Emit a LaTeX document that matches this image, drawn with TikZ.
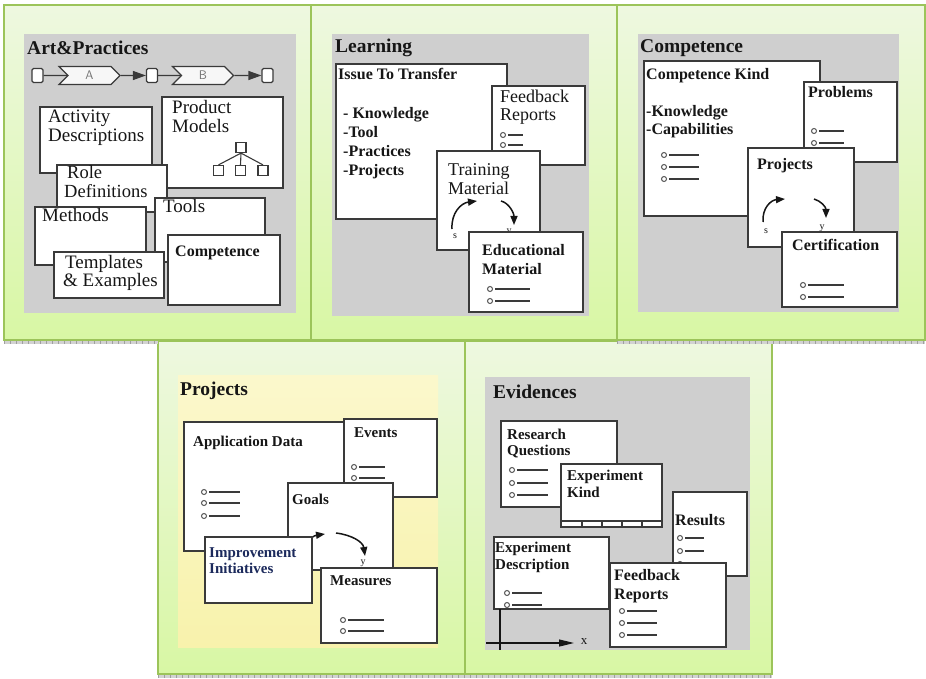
\documentclass[tikz,border=0pt]{standalone}
\usepackage{fontspec}
\setmainfont{Liberation Serif}
\usetikzlibrary{arrows.meta,shapes.symbols,fit}

\definecolor{panelTop}{HTML}{EEF8E0}
\definecolor{panelBot}{HTML}{D8F7A4}
\definecolor{panelEdge}{HTML}{9CC45A}
\definecolor{canvasGray}{HTML}{CFCFCF}
\definecolor{canvasYelTop}{HTML}{FBF8CC}
\definecolor{canvasYelBot}{HTML}{F8F2AC}
\definecolor{ink}{HTML}{161616}
\definecolor{cardEdge}{HTML}{3A3A3A}
\definecolor{navyInk}{HTML}{1C2A5C}
\definecolor{markGray}{HTML}{555555}

% helper: a small "o----" list row
\newcommand\bulletrow[3]{%
  \draw[bulletdot] (#1,#2) circle[radius=2.5];
  \draw[bulletrule] (#1+5,#2) -- ++(#3,0);}

\begin{document}
\begin{tikzpicture}[x=1pt,y=-1pt,
  panel/.style={draw=panelEdge, line width=1.5pt, top color=panelTop, bottom color=panelBot},
  card/.style={draw=cardEdge, line width=1.5pt, fill=white, inner sep=0pt, outer sep=0pt},
  lbl/.style={anchor=base west, inner sep=0pt, text=ink},
  ptitle/.style={lbl, font=\fontsize{19.5}{22}\selectfont\bfseries},
  fRa/.style={font=\fontsize{19}{21}\selectfont},
  fRc/.style={font=\fontsize{18.5}{20}\selectfont},
  fRb/.style={font=\fontsize{18}{20}\selectfont},
  fBa/.style={font=\fontsize{16}{18}\selectfont\bfseries},
  fBb/.style={font=\fontsize{15}{17}\selectfont\bfseries},
  bulletdot/.style={draw=markGray, line width=1pt, fill=white},
  bulletrule/.style={draw=cardEdge, line width=1.4pt},
  chainsq/.style={draw=cardEdge, fill=white, line width=1.2pt, rounded corners=1.5pt,
    minimum width=11pt, minimum height=14pt, inner sep=0pt},
  chevron/.style={shape=signal, signal from=west, signal to=east, draw=cardEdge,
    fill=white!94!gray, line width=1.2pt, minimum width=61pt, minimum height=18pt, inner sep=0pt,
    text=gray!90!black, font=\sffamily\fontsize{12.5}{12.5}\selectfont},
  chainln/.style={draw=cardEdge, line width=1.3pt},
  chainhead/.style={-{Triangle[length=13pt,width=9pt]}},
  treesq/.style={draw=cardEdge, fill=white, line width=1.2pt, minimum size=10pt, inner sep=0pt},
  treeln/.style={draw=cardEdge, line width=1.1pt},
  cyc/.style={draw=ink, line width=1.5pt, -{Triangle[length=9pt,width=7pt]}},
  cyclbl/.style={inner sep=0pt, text=ink, font=\fontsize{10}{10}\selectfont},
  axisln/.style={draw=ink, line width=1.2pt},
  stripBase/.style={fill=gray!35},
  stripTick/.style={draw=gray!75, line width=3pt, dash pattern=on 1.2pt off 4.8pt}
]
\useasboundingbox (0,0) rectangle (926,679);
\fill[white] (0,0) rectangle (926,679);

% ---------- panels ----------
\path[panel] (4,5) rectangle (311,340);
\path[panel] (311,5) rectangle (617,340);
\path[panel] (617,5) rectangle (925,340);
\path[panel] (158,341) rectangle (465,674);
\path[panel] (465,341) rectangle (772,674);
\foreach \a/\b/\c in {4/158/342.5, 617/925/342.5, 158/772/676.5} {
  \fill[stripBase] (\a,\c-1.5) rectangle (\b,\c+1.5);
  \draw[stripTick] (\a,\c) -- (\b,\c);
}

% ---------- canvases ----------
\fill[canvasGray] (24,34) rectangle (296,313);
\fill[canvasGray] (332,34) rectangle (589,316);
\fill[canvasGray] (638,34) rectangle (899,312);
\shade[top color=canvasYelTop, bottom color=canvasYelBot] (178,375) rectangle (438,647);
\fill[canvasGray] (485,377) rectangle (750,650);

% ================= Art&Practices =================
\node[ptitle] (ttlA) at (27,55) {Art\&Practices};
\node[chainsq] (sq1) at (37.5,75.5) {};
\node[chevron] (chA) at (89.5,75.5) {A};
\node[chainsq] (sq2) at (152,75.5) {};
\node[chevron] (chB) at (203,75.5) {B};
\node[chainsq] (sq3) at (267.5,75.5) {};
\draw[chainln] (sq1) -- (chA);
\draw[chainln, chainhead] (chA) -- (sq2);
\draw[chainln] (sq2) -- (chB);
\draw[chainln, chainhead] (chB) -- (sq3);

\node[card, fit={(40,107) (152,173)}] (actdesc) {};
\node[lbl,fRa] (tAct1) at (48,123) {Activity};
\node[lbl,fRa] (tAct2) at (48,142) {Descriptions};

\node[card, fit={(162,97) (283,188)}] (prodmod) {};
\node[lbl,fRa] (tProd1) at (172,114) {Product};
\node[lbl,fRa] (tProd2) at (172,133) {Models};
\node[treesq] (tr0) at (241,147.5) {};
\node[treesq] (tr1) at (218.5,170.5) {};
\node[treesq] (tr2) at (240.5,170.5) {};
\node[treesq] (tr3) at (263,170.5) {};
\draw[treeln] (tr0.south) -- (tr1.north);
\draw[treeln] (tr0.south) -- (tr2.north);
\draw[treeln] (tr0.south) -- (tr3.north);

\node[card, fit={(57,165) (167,212)}] (roledef) {};
\node[lbl,fRc] (tRole1) at (67,179) {Role};
\node[lbl,fRc] (tRole2) at (64,197.5) {Definitions};

\node[card, fit={(155,198) (265,262)}] (tools) {};
\node[lbl,fRa] (tTools) at (163,213) {Tools};

\node[card, fit={(35,207) (146,265)}] (methods) {};
\node[lbl,fRa] (tMeth) at (42,222) {Methods};

\node[card, fit={(54,252) (164,298)}] (templ) {};
\node[lbl,fRa] (tTmp1) at (65,268) {Templates};
\node[lbl,fRa] (tTmp2) at (63,286) {\& Examples};

\node[card, fit={(168,235) (280,305)}] (compA) {};
\node[lbl,fBa] (tCompA) at (175,256) {Competence};

% ================= Learning =================
\node[ptitle] (ttlL) at (335,53) {Learning};
\node[card, fit={(336,64) (507,219)}] (issue) {};
\node[lbl,fBa] (tIss0) at (338,80) {Issue To Transfer};
\node[lbl,fBa] (tIss1) at (343,119) {- Knowledge};
\node[lbl,fBa] (tIss2) at (343,138) {-Tool};
\node[lbl,fBa] (tIss3) at (343,157) {-Practices};
\node[lbl,fBa] (tIss4) at (343,176) {-Projects};

\node[card, fit={(492,86) (585,165)}] (fbrepL) {};
\node[lbl,fRb] (tFbL1) at (500,103) {Feedback};
\node[lbl,fRb] (tFbL2) at (500,121) {Reports};
\bulletrow{503}{135}{15}
\bulletrow{503}{145}{15}

\node[card, fit={(437,151) (540,250)}] (training) {};
\node[lbl,fRb] (tTr1) at (448,176) {Training};
\node[lbl,fRb] (tTr2) at (448,195) {Material};
\coordinate (lcA1) at (452,229);
\coordinate (lcA2) at (477,201);
\coordinate (lcB1) at (501,201);
\coordinate (lcB2) at (514,225);
\draw[cyc] (lcA1) .. controls (451,213) and (461,203) .. (lcA2);
\draw[cyc] (lcB1) .. controls (509,203) and (514,213) .. (lcB2);
\node[cyclbl] (lcS) at (455,236) {s};
\node[cyclbl] (lcY) at (509,232) {y};

\node[card, fit={(469,232) (583,312)}] (edumat) {};
\node[lbl,fBa] (tEd1) at (482,255) {Educational};
\node[lbl,fBa] (tEd2) at (482,274) {Material};
\bulletrow{490}{289}{35}
\bulletrow{490}{301}{35}

% ================= Competence =================
\node[ptitle] (ttlC) at (640,53) {Competence};
\node[card, fit={(644,61) (820,216)}] (ckind) {};
\node[lbl,fBa] (tCk0) at (646,80) {Competence Kind};
\node[lbl,fBa] (tCk1) at (646,117) {-Knowledge};
\node[lbl,fBa] (tCk2) at (646,135) {-Capabilities};
\bulletrow{664}{155}{30}
\bulletrow{664}{167}{30}
\bulletrow{664}{179}{30}

\node[card, fit={(804,82) (897,162)}] (problems) {};
\node[lbl,fBa] (tProb) at (808,98) {Problems};
\bulletrow{814}{131}{25}
\bulletrow{814}{143}{25}

\node[card, fit={(748,148) (854,247)}] (cproj) {};
\node[lbl,fBa] (tCproj) at (757,170) {Projects};
\coordinate (ccA1) at (763,222);
\coordinate (ccA2) at (785,199);
\coordinate (ccB1) at (814,199);
\coordinate (ccB2) at (826,218);
\draw[cyc] (ccA1) .. controls (762,208) and (771,200) .. (ccA2);
\draw[cyc] (ccB1) .. controls (821,201) and (826,207) .. (ccB2);
\node[cyclbl] (ccS) at (766,231) {s};
\node[cyclbl] (ccY) at (822,228) {y};

\node[card, fit={(782,232) (897,307)}] (certif) {};
\node[lbl,fBa] (tCert) at (792,251) {Certification};
\bulletrow{803}{285}{36}
\bulletrow{803}{297}{36}

% ================= Projects =================
\node[ptitle] (ttlP) at (180,395) {Projects};
\node[card, fit={(184,422) (345,551)}] (appdata) {};
\node[lbl,fBb] (tApp) at (193,446) {Application Data};
\bulletrow{204}{492}{31}
\bulletrow{204}{503}{31}
\bulletrow{204}{516}{31}

\node[card, fit={(344,419) (437,497)}] (events) {};
\node[lbl,fBb] (tEv) at (354,437) {Events};
\bulletrow{354}{467}{26}
\bulletrow{354}{478}{26}

\node[card, fit={(288,483) (393,570)}] (goals) {};
\node[lbl,fBb] (tGoals) at (292,504) {Goals};
\coordinate (gcA1) at (300,566);
\coordinate (gcA2) at (325,534);
\coordinate (gcB1) at (336,533);
\coordinate (gcB2) at (365,556);
\draw[cyc] (gcA1) .. controls (301,547) and (311,536) .. (gcA2);
\draw[cyc] (gcB1) .. controls (352,535) and (363,542) .. (gcB2);
\node[cyclbl] (gcY) at (363,563) {y};

\node[card, fit={(205,537) (312,603)}] (improve) {};
\node[lbl,fBb,text=navyInk] (tImp1) at (209,557) {Improvement};
\node[lbl,fBb,text=navyInk] (tImp2) at (209,573) {Initiatives};

\node[card, fit={(321,568) (437,643)}] (measures) {};
\node[lbl,fBb] (tMeas) at (330,585) {Measures};
\bulletrow{343}{620}{36}
\bulletrow{343}{631}{36}

% ================= Evidences =================
\node[ptitle] (ttlE) at (493,398) {Evidences};
\node[card, fit={(501,421) (617,507)}] (research) {};
\node[lbl,fBb] (tRes1) at (507,439) {Research};
\node[lbl,fBb] (tRes2) at (507,455) {Questions};
\bulletrow{512}{470}{31}
\bulletrow{512}{483}{31}
\bulletrow{512}{495}{31}

\node[card, fit={(561,464) (662,527)}] (expkind) {};
\node[lbl,fBb] (tEk1) at (567,480) {Experiment};
\node[lbl,fBb] (tEk2) at (567,497) {Kind};
\draw[bulletrule] (561,521) -- (662,521);
\foreach \t in {582,602,622,642} \draw[bulletrule] (\t,521) -- (\t,527);

\node[card, fit={(673,492) (747,576)}] (results) {};
\node[lbl,fBa] (tRslt) at (675,525) {Results};
\bulletrow{680}{538}{19}
\bulletrow{680}{551}{19}
\bulletrow{680}{564}{19}

\node[card, fit={(494,537) (609,609)}] (expdesc) {};
\node[lbl,fBb] (tEd1b) at (495,552) {Experiment};
\node[lbl,fBb] (tEd2b) at (495,569) {Description};
\bulletrow{507}{593}{30}
\bulletrow{507}{605}{30}
\coordinate (axTop) at (500,609);
\coordinate (axBot) at (500,650);
\coordinate (axLeft) at (486,643);
\coordinate (axRight) at (574,643);
\draw[axisln] (axTop) -- (axBot);
\draw[axisln, -{Triangle[length=15pt,width=7pt]}] (axLeft) -- (axRight);
\node[inner sep=0pt, text=ink, font=\fontsize{13}{13}\selectfont] (axX) at (584,642) {x};

\node[card, fit={(610,563) (726,647)}] (fbrepE) {};
\node[lbl,fBa] (tFbE1) at (614,580) {Feedback};
\node[lbl,fBa] (tFbE2) at (614,599) {Reports};
\bulletrow{622}{611}{30}
\bulletrow{622}{623}{30}
\bulletrow{622}{635}{30}

\end{tikzpicture}
\end{document}
